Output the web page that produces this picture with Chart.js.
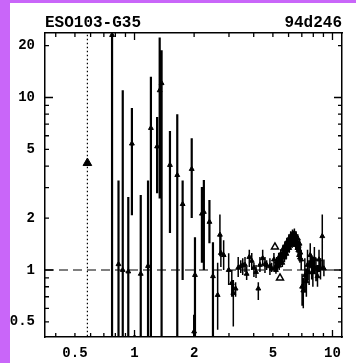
<!DOCTYPE html>
<html><head><meta charset="utf-8">
<script src="https://cdn.jsdelivr.net/npm/chart.js@4.4.1/dist/chart.umd.min.js"></script>
<style>
html,body{margin:0;padding:0;width:356px;height:363px;overflow:hidden;background:#c966f9}
#wrap{position:absolute;left:10px;top:3px;width:346px;height:360px;background:#fff}
canvas{display:block}
</style></head>
<body><div id="wrap"><canvas id="c" width="346" height="360"></canvas></div>
<script>
const titleLeft = 'ESO103-G35';
const titleRight = '94d246';
const xTickValues = [0.4,0.5,0.6,0.7,0.8,0.9,1,2,3,4,5,6,7,8,9,10];
const xTickLabels = [0.5,1,2,5,10];
const yTickValues = [0.5,0.6,0.7,0.8,0.9,1,2,3,4,5,6,7,8,9,10,20];
const yTickLabels = [0.5,1,2,5,10,20];
const xRange = [0.353, 11.17];
const yRange = [0.409, 23.65];
const modelRatio = 1;

// continuum points: energy (keV), data/model ratio, lower and upper error bounds
const energy  = [0.77,0.83,0.872,0.93,0.97,1.00,1.075,1.17,1.21,1.30,1.34,1.37,1.51,1.644,1.75,1.945,2.00,2.02,2.19,2.24,2.39,2.49,2.63,2.70,2.73,2.82,2.99,3.10,3.155,3.24,3.34,3.44,3.52,3.615,3.685,3.80,3.91,4.01,4.11,4.22,4.30,4.44,4.56,4.65,4.83,4.93,5.06,
                 6.95,7.02,7.12,7.25,7.38,7.48,7.62,7.72,7.85,7.96,8.10,8.25,8.40,8.55,8.70,8.88,9.05];
const ratio   = [23.0,1.08,1.0,0.98,5.4,0.35,0.95,1.055,6.65,5.2,11.0,12.1,4.06,3.55,2.41,3.85,0.44,0.935,2.12,2.17,1.90,0.92,0.716,1.60,1.255,1.22,1.0,0.84,0.736,0.78,1.03,1.05,1.07,1.07,0.95,1.19,1.13,1.03,0.974,0.78,1.07,1.17,1.08,1.07,1.05,1.02,1.15,
                 1.15,0.80,0.76,0.93,0.86,1.07,0.97,1.22,1.05,0.97,1.16,1.02,0.92,1.15,1.02,1.57,1.02];
const ratioLo = [0.30,0.30,0.30,0.30,2.08,0.25,0.30,0.30,0.30,2.79,2.6,0.30,1.64,0.30,0.875,2.0,0.30,0.30,1.1,1.0,1.43,0.30,0.45,1.2,1.04,1.0,0.82,0.70,0.47,0.70,0.91,0.96,0.935,0.974,0.875,1.04,1.0,0.911,0.899,0.67,0.974,1.07,0.961,1.0,0.935,0.974,1.04,
                 1.0,0.62,0.60,0.74,0.70,0.875,0.82,1.04,0.88,0.80,0.95,0.86,0.80,0.974,0.88,1.0,0.92];
const ratioHi = [30,3.3,11.0,2.65,8.7,0.42,2.72,3.3,13.2,7.7,22.3,18.8,6.4,8.0,3.3,5.8,0.55,1.55,3.03,3.32,2.55,1.45,1.1,2.1,1.6,1.49,1.25,1.0,0.875,0.85,1.19,1.14,1.17,1.19,1.04,1.31,1.255,1.10,1.07,0.85,1.19,1.31,1.19,1.14,1.17,1.10,1.255,
                 1.31,0.95,0.90,1.17,1.02,1.31,1.14,1.43,1.20,1.19,1.36,1.18,1.07,1.31,1.17,2.1,1.15];

// iron line region points
const lineEnergy = [5.15,5.18,5.22,5.25,5.28,5.32,5.35,5.38,5.42,5.45,5.48,5.52,5.55,5.58,5.62,5.65,5.68,5.72,5.75,5.78,5.82,5.85,5.88,5.92,5.95,5.98,6.02,6.05,6.08,6.12,6.15,6.18,6.22,6.25,6.28,6.32,6.35,6.38,6.42,6.45,6.48,6.52,6.55,6.58,6.62,6.65,6.68,6.72,6.75,6.78,6.82,6.85,6.88];
const lineRatio  = [1.04,1.00,1.12,1.06,1.08,1.10,1.18,1.06,1.15,1.12,1.24,1.14,1.20,1.10,1.32,1.22,1.28,1.18,1.38,1.26,1.34,1.24,1.45,1.30,1.42,1.36,1.52,1.34,1.48,1.40,1.58,1.44,1.55,1.42,1.62,1.48,1.56,1.44,1.64,1.46,1.52,1.40,1.58,1.42,1.46,1.34,1.52,1.30,1.38,1.22,1.42,1.18,1.26];
const lineErr    = [0.06,0.05,0.07,0.06,0.06,0.07,0.08,0.06,0.07,0.06,0.08,0.07,0.07,0.06,0.08,0.07,0.08,0.07,0.09,0.07,0.08,0.07,0.09,0.07,0.08,0.08,0.09,0.08,0.09,0.08,0.10,0.08,0.09,0.08,0.10,0.09,0.09,0.08,0.10,0.09,0.09,0.08,0.10,0.08,0.09,0.08,0.09,0.08,0.09,0.08,0.10,0.08,0.09];

// low-energy point with a dotted bar and the two open triangles
const limitEnergy = [0.578];
const limitRatio  = [4.17];
const limitLo     = [0.3];
const limitHi     = [30];
const openEnergy  = [5.12, 5.43];
const openRatio   = [1.36, 0.90];

const FONT = 'Liberation Mono';

function bars(E, lo, hi, keep) {
  const pts = [];
  E.forEach((e, i) => {
    if (!keep(e)) return;
    pts.push({x: e, y: lo[i]}, {x: e, y: hi[i]}, {x: e, y: null});
  });
  return pts;
}
const lineLo = lineRatio.map((r, i) => r - lineErr[i]);
const lineHi = lineRatio.map((r, i) => r + lineErr[i]);

const isMajor = v => Math.abs(Math.log10(v) - Math.round(Math.log10(v))) < 1e-6;

const inwardTicks = {
  id: 'inwardTicks',
  afterDatasetsDraw(chart) {
    const {ctx, chartArea: a, scales: {x, y}} = chart;
    ctx.save();
    ctx.strokeStyle = '#000';
    ctx.lineWidth = 1.3;
    ctx.beginPath();
    x.ticks.forEach(t => {
      const p = x.getPixelForValue(t.value);
      const L = isMajor(t.value) ? 7 : 4;
      ctx.moveTo(p, a.bottom); ctx.lineTo(p, a.bottom - L);
      ctx.moveTo(p, a.top); ctx.lineTo(p, a.top + L);
    });
    y.ticks.forEach(t => {
      const p = y.getPixelForValue(t.value);
      const L = isMajor(t.value) ? 8 : 4;
      ctx.moveTo(a.left, p); ctx.lineTo(a.left + L, p);
      ctx.moveTo(a.right, p); ctx.lineTo(a.right - L, p);
    });
    ctx.stroke();
    ctx.restore();
  }
};

const tickFont = {family: FONT, size: 14, weight: 'bold'};
const border = {display: true, color: '#000', width: 1.5};

new Chart(document.getElementById('c'), {
  type: 'scatter',
  data: {
    datasets: [
      {data: [{x: xRange[0], y: modelRatio}, {x: xRange[1], y: modelRatio}], showLine: true, borderColor: '#000', borderWidth: 1.2, borderDash: [9, 5], pointRadius: 0},
      {data: bars(limitEnergy, limitLo, limitHi, () => true), showLine: true, borderColor: '#000', borderWidth: 1.2, borderDash: [1.5, 2.5], pointRadius: 0, spanGaps: false},
      {data: limitEnergy.map((e, i) => ({x: e, y: limitRatio[i]})), pointStyle: 'triangle', pointRadius: 5, backgroundColor: '#000', borderColor: '#000', borderWidth: 1},
      {data: bars(energy, ratioLo, ratioHi, e => e < 2.6), showLine: true, borderColor: '#000', borderWidth: 2.2, pointRadius: 0, spanGaps: false},
      {data: bars(energy, ratioLo, ratioHi, e => e >= 2.6), showLine: true, borderColor: '#000', borderWidth: 1.5, pointRadius: 0, spanGaps: false},
      {data: bars(lineEnergy, lineLo, lineHi, () => true), showLine: true, borderColor: '#000', borderWidth: 1.5, pointRadius: 0, spanGaps: false},
      {data: energy.map((e, i) => ({x: e, y: ratio[i]})), pointStyle: 'triangle', pointRadius: 2.8, backgroundColor: '#000', borderColor: '#000', borderWidth: 1},
      {data: lineEnergy.map((e, i) => ({x: e, y: lineRatio[i]})), pointStyle: 'triangle', pointRadius: 2.8, backgroundColor: '#000', borderColor: '#000', borderWidth: 1},
      {data: openEnergy.map((e, i) => ({x: e, y: openRatio[i]})), pointStyle: 'triangle', pointRadius: 4, backgroundColor: '#fff', borderColor: '#000', borderWidth: 1.5}
    ]
  },
  options: {
    responsive: false,
    animation: false,
    devicePixelRatio: 1,
    layout: {padding: 0},
    plugins: {
      legend: {display: false},
      tooltip: {enabled: false},
      title: {display: true, text: titleLeft, align: 'start', fullSize: false, color: '#000',
        font: {family: FONT, size: 16, weight: 'bold', lineHeight: 1}, padding: {top: 11.5, bottom: 0}},
      subtitle: {display: true, text: titleRight, align: 'end', fullSize: false, color: '#000',
        font: {family: FONT, size: 16, weight: 'bold', lineHeight: 1}, padding: {top: -16, bottom: 0}}
    },
    scales: {
      x: {type: 'logarithmic', position: 'bottom', min: xRange[0], max: xRange[1],
        afterBuildTicks: s => { s.ticks = xTickValues.map(v => ({value: v})); },
        afterFit: s => { s.height = 26; },
        ticks: {autoSkip: false, maxRotation: 0, padding: 8, color: '#000', font: tickFont,
          callback: v => xTickLabels.includes(v) ? String(v) : ''},
        grid: {display: false, drawTicks: false}, border},
      x2: {type: 'logarithmic', position: 'top', min: xRange[0], max: xRange[1],
        afterFit: s => { s.height = 2.5; },
        ticks: {display: false}, grid: {display: false, drawTicks: false}, border},
      y: {type: 'logarithmic', position: 'left', min: yRange[0], max: yRange[1],
        afterBuildTicks: s => { s.ticks = yTickValues.map(v => ({value: v})); },
        afterFit: s => { s.width = 35; },
        ticks: {autoSkip: false, padding: 10, color: '#000', font: tickFont,
          callback: v => yTickLabels.includes(v) ? String(v) : ''},
        grid: {display: false, drawTicks: false}, border},
      y2: {type: 'logarithmic', position: 'right', min: yRange[0], max: yRange[1],
        afterFit: s => { s.width = 14; },
        ticks: {display: false}, grid: {display: false, drawTicks: false}, border}
    }
  },
  plugins: [inwardTicks]
});
</script>
</body></html>
